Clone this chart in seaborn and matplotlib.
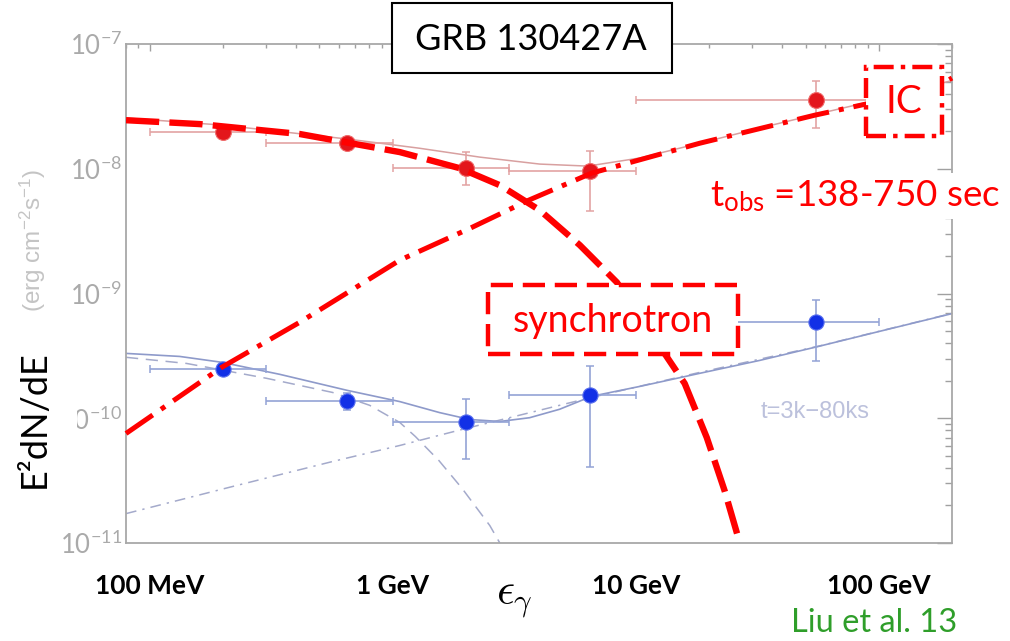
import matplotlib
matplotlib.use("Agg")
import matplotlib.pyplot as plt
import seaborn as sns
from matplotlib.patches import Rectangle
from matplotlib.ticker import LogLocator, NullFormatter, LogFormatterSciNotation

# ---------------- data ----------------
bin_center = [0.2, 0.65, 2.0, 6.5, 55.0]      # GeV
bin_lo = [0.1, 0.3, 1.0, 3.0, 10.0]
bin_hi = [0.3, 1.0, 3.0, 10.0, 100.0]

early_flux = [1.98e-8, 1.61e-8, 1.01e-8, 9.6e-9, 3.56e-8]
early_flux_lo = [1.87e-8, 1.50e-8, 7.4e-9, 4.6e-9, 2.12e-8]
early_flux_hi = [2.09e-8, 1.72e-8, 1.36e-8, 1.40e-8, 5.05e-8]

late_flux = [2.46e-10, 1.37e-10, 9.4e-11, 1.55e-10, 5.87e-10]
late_flux_lo = [2.33e-10, 1.17e-10, 4.75e-11, 4.1e-11, 2.86e-10]
late_flux_hi = [2.60e-10, 1.60e-10, 1.42e-10, 2.6e-10, 8.8e-10]

# early epoch model curves
early_total_E = [0.08, 0.198, 0.653, 1.29, 2.28, 4.03, 6.35, 10.4, 18.3, 32.4, 56.1, 101, 200]
early_total_F = [2.55e-8, 2.24e-8, 1.73e-8, 1.46e-8, 1.24e-8, 1.09e-8, 1.05e-8, 1.22e-8,
                 1.60e-8, 2.12e-8, 2.75e-8, 3.6e-8, 5.1e-8]
sync_E = [0.08, 0.161, 0.414, 1.07, 1.89, 2.76, 4.03, 5.89, 8.36, 15.9, 19.6, 23.2, 26.8]
sync_F = [2.45e-8, 2.28e-8, 1.90e-8, 1.36e-8, 1.01e-8, 7.38e-9, 4.65e-9, 2.44e-9,
          1.23e-9, 1.90e-10, 7.0e-11, 2.63e-11, 1.0e-11]
ic_E = [0.08, 0.198, 0.414, 1.07, 2.08, 3.63, 6.59, 18.3, 54.6, 88.5, 181.5, 200]
ic_F = [7.55e-11, 2.56e-10, 5.87e-10, 1.85e-9, 3.33e-9, 5.60e-9, 9.23e-9, 1.60e-8,
        2.69e-8, 3.30e-8, 4.78e-8, 5.34e-8]

# late epoch model curves
late_total_E = [0.08, 0.133, 0.198, 0.343, 0.653, 1.07, 1.56, 2.08, 2.76, 3.66, 4.86,
                6.59, 10.4, 18.3, 32.4, 56.6, 101, 200]
late_total_F = [3.31e-10, 3.13e-10, 2.81e-10, 2.25e-10, 1.67e-10, 1.36e-10, 1.11e-10,
                9.77e-11, 9.42e-11, 1.01e-10, 1.18e-10, 1.50e-10, 1.80e-10, 2.29e-10,
                2.91e-10, 3.77e-10, 4.98e-10, 6.9e-10]
late_sync_E = [0.08, 0.142, 0.303, 0.566, 0.804, 1.07, 1.24, 1.55, 1.93, 2.51, 2.76]
late_sync_F = [3.08e-10, 2.75e-10, 2.09e-10, 1.61e-10, 1.27e-10, 9.25e-11, 7.14e-11,
               4.58e-11, 2.74e-11, 1.38e-11, 1.0e-11]
late_ic_E = [0.08, 0.22, 0.566, 1.07, 2.0, 6.59, 18.3, 56.1, 200]
late_ic_F = [1.72e-11, 2.84e-11, 4.50e-11, 6.05e-11, 8.28e-11, 1.47e-10, 2.33e-10,
             3.77e-10, 6.93e-10]

energy_ticks = [0.1, 1, 10, 100]
energy_labels = ["100 MeV", "1 GeV", "10 GeV", "100 GeV"]
flux_ticks = [1e-11, 1e-10, 1e-9, 1e-8, 1e-7]

# ---------------- style ----------------
sns.set_theme(style="white")
plt.rcParams["font.family"] = ["Lato", "DejaVu Sans"]
plt.rcParams["mathtext.fontset"] = "custom"
plt.rcParams["mathtext.rm"] = "Liberation Sans"
plt.rcParams["mathtext.it"] = "Liberation Sans:italic"
plt.rcParams["mathtext.bf"] = "Liberation Sans:bold"

W, H = 1010, 641
fig = plt.figure(figsize=(W / 100, H / 100), dpi=100)
fig.patch.set_facecolor("white")


def px(x, y):
    return x / W, 1 - y / H


L, R, T, B = 126, 952, 44, 543
ax = fig.add_axes([L / W, 1 - B / H, (R - L) / W, (B - T) / H])
ax.set_facecolor("white")
ax.set_xscale("log")
ax.set_yscale("log")


def curve(E, F, color, lw, dashes=None, z=2, clip=True):
    sns.lineplot(x=E, y=F, ax=ax, color=color, linewidth=lw, sort=False,
                 estimator=None, legend=False)
    ln = ax.lines[-1]
    if dashes is not None:
        ln.set_dashes(dashes)
    ln.set_zorder(z)
    ln.set_clip_on(clip)
    ln.set_dash_capstyle("butt")
    ln.set_solid_joinstyle("round")
    return ln


# faded original model curves
curve(late_ic_E, late_ic_F, "#a4aacb", 1.1, dashes=(7, 4, 1.5, 4))
curve(late_sync_E, late_sync_F, "#a4aacb", 1.1, dashes=(8, 5))
curve(late_total_E, late_total_F, "#8e9aca", 1.2)
curve(early_total_E, early_total_F, "#d8a0a0", 1.1)

# error bars
xe_lo = [c - l for c, l in zip(bin_center, bin_lo)]
xe_hi = [h - c for c, h in zip(bin_center, bin_hi)]
ax.errorbar(bin_center, early_flux, xerr=[xe_lo, xe_hi],
            yerr=[[f - l for f, l in zip(early_flux, early_flux_lo)],
                  [h - f for f, h in zip(early_flux, early_flux_hi)]],
            fmt="none", ecolor="#e3a3a3", elinewidth=1.2, capsize=3, capthick=1.1, zorder=3)
ax.errorbar(bin_center, late_flux, xerr=[xe_lo, xe_hi],
            yerr=[[f - l for f, l in zip(late_flux, late_flux_lo)],
                  [h - f for f, h in zip(late_flux, late_flux_hi)]],
            fmt="none", ecolor="#93a3d6", elinewidth=1.2, capsize=3, capthick=1.1, zorder=3)

sns.scatterplot(x=bin_center, y=early_flux, ax=ax, color="#e3161c", s=130,
                edgecolor="#ef6a6a", linewidth=0.8, zorder=4, legend=False)
sns.scatterplot(x=bin_center, y=late_flux, ax=ax, color="#1230e6", s=120,
                edgecolor="#5a70ee", linewidth=0.8, zorder=4, legend=False)

# bold red overlay curves
curve(sync_E, sync_F, "#ff0000", 4.6, dashes=(5.2, 1.6), z=6)
curve(ic_E, ic_F, "#ff0000", 3.6, dashes=(6.5, 2.0, 1.0, 2.0), z=6, clip=False)

# axes styling
for sp in ax.spines.values():
    sp.set_color("#a8a8a8")
    sp.set_linewidth(1.3)
ax.set_yticks(flux_ticks)
ax.yaxis.set_major_formatter(LogFormatterSciNotation())
ax.yaxis.set_minor_locator(LogLocator(base=10, subs=range(2, 10), numticks=20))
ax.yaxis.set_minor_formatter(NullFormatter())
ax.set_xticks(energy_ticks)
ax.set_xticklabels(energy_labels)
ax.xaxis.set_minor_locator(LogLocator(base=10, subs=range(2, 10), numticks=20))
ax.xaxis.set_minor_formatter(NullFormatter())
ax.set_xlim(0.08, 200)
ax.set_ylim(1e-11, 1e-7)
ax.tick_params(which="both", direction="in", top=True, right=True, color="#a0a0a0", width=1.0)
ax.tick_params(axis="y", which="major", length=11, labelsize=18.5, labelcolor="#aaaaaa", pad=3)
ax.tick_params(axis="y", which="minor", length=5)
ax.tick_params(axis="x", which="major", length=5, pad=22, labelsize=19, labelcolor="black")
ax.tick_params(axis="x", which="minor", length=3)
for lbl in ax.get_xticklabels():
    lbl.set_fontweight("bold")
ax.grid(False)

# faded original y-axis unit
fig.text(*px(33, 240), "(erg cm$^{-2}$s$^{-1}$)", rotation=90, ha="center", va="center",
         fontsize=17.5, color="#c4c4c4", family="Liberation Sans")
# overlay y label
fig.text(*px(34, 419), "E²dN/dE", rotation=90, ha="center", va="center", fontsize=26,
         color="black", bbox=dict(boxstyle="square,pad=0.72", fc="white", ec="none"))

# faded epoch label
fig.text(*px(815, 412), "t=3k\u221280ks", ha="center", va="center", fontsize=17,
         color="#bcc1dc", family="Liberation Sans")

# title box
x0, y0 = px(392, 73)
fig.add_artist(Rectangle((x0, y0), 280 / W, 70 / H, transform=fig.transFigure,
                         fc="white", ec="black", lw=1.5, zorder=5))
fig.text(*px(531, 40), "GRB 130427A", ha="center", va="center", fontsize=26,
         color="black", zorder=6)

# IC box
x0, y0 = px(866, 136)
fig.add_artist(Rectangle((x0, y0), 76 / W, 69 / H, transform=fig.transFigure,
                         fc="white", ec="#ff0000", lw=3.2,
                         ls=(0, (4.5, 1.6, 1.0, 1.6)), zorder=5))
fig.text(*px(904, 102), "IC", ha="center", va="center", fontsize=28,
         color="#ff0000", zorder=6)

# synchrotron box
x0, y0 = px(488, 354)
fig.add_artist(Rectangle((x0, y0), 250 / W, 69 / H, transform=fig.transFigure,
                         fc="white", ec="#ff0000", lw=3.2,
                         ls=(0, (5, 2.2)), zorder=5))
fig.text(*px(613, 321), "synchrotron", ha="center", va="center", fontsize=27,
         color="#ff0000", zorder=6)

# observation time
fig.text(*px(1000, 196), r"$\mathregular{t_{obs}}$ =138-750 sec", ha="right", va="center",
         fontsize=26.5, color="#ff0000", zorder=6,
         bbox=dict(boxstyle="square,pad=0.15", fc="white", ec="none"))

# energy symbol
fig.text(*px(514, 599), r"$\epsilon_\gamma$", ha="center", va="center", fontsize=32,
         color="black", math_fontfamily="cm")

# reference
fig.text(*px(874, 623), "Liu et al. 13", ha="center", va="center", fontsize=23.5,
         color="#2f9e2a")

fig.savefig("out.png", dpi=100, facecolor="white")
